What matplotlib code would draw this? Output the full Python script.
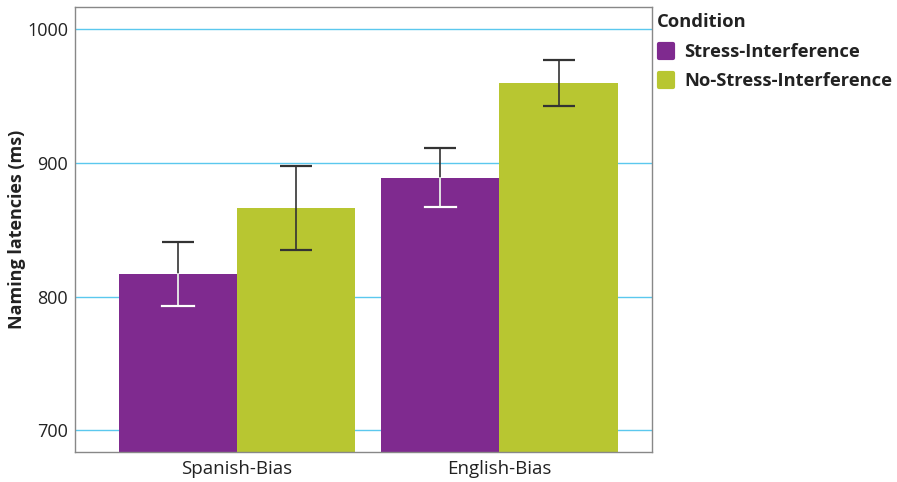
import matplotlib
matplotlib.use("Agg")
import matplotlib.pyplot as plt
import numpy as np
from matplotlib.lines import Line2D
from matplotlib.markers import MarkerStyle

plt.rcParams['font.family'] = ['Open Sans', 'DejaVu Sans']

# data
groups = ['Spanish-Bias', 'English-Bias']
conditions = ['Stress-Interference', 'No-Stress-Interference']
stress_means = [817, 889]
stress_err = [24, 22]
nostress_means = [866, 960]
nostress_err = [31.5, 17]
yticks = [700, 800, 900, 1000]

colors = ['#7f2a8f', '#b8c631']
y_low, y_high = 683.8, 1016.5

fig = plt.figure(figsize=(8.97, 4.82), dpi=100)
ax = fig.add_axes([0.0836, 0.0628, 0.6433, 0.9220])

x = np.arange(len(groups))
width = 0.45

# bars start at the bottom of the axes
ax.bar(x - width / 2, np.array(stress_means) - y_low, width, bottom=y_low,
       color=colors[0], zorder=2)
ax.bar(x + width / 2, np.array(nostress_means) - y_low, width, bottom=y_low,
       color=colors[1], zorder=2)

# error bars, dark outside the purple bars and white inside them
ax.errorbar(x - width / 2, stress_means, yerr=stress_err, fmt='none',
            ecolor='#333333', elinewidth=1.2, capsize=11.5, capthick=1.6, zorder=3)
ax.errorbar(x + width / 2, nostress_means, yerr=nostress_err, fmt='none',
            ecolor='#333333', elinewidth=1.2, capsize=11.5, capthick=1.6, zorder=3)
for xi, m, e in zip(x - width / 2, stress_means, stress_err):
    ax.plot([xi, xi], [m - e, m], color='white', lw=1.2, zorder=4)
    ax.plot([xi - 0.06, xi + 0.06], [m - e, m - e], color='white', lw=1.6, zorder=4)

ax.set_xlim(-0.617, 1.581)
ax.set_ylim(y_low, y_high)
ax.set_yticks(yticks)
ax.set_xticks(x)
ax.set_xticklabels(groups)
ax.tick_params(axis='y', length=0, labelsize=13, colors='#222222', pad=5)
ax.tick_params(axis='x', length=0, labelsize=13.5, colors='#222222', pad=6)
ax.grid(axis='y', color='#5bc8ee', lw=1)
ax.set_axisbelow(True)
for s in ax.spines.values():
    s.set_color('#888888')
    s.set_linewidth(1)

ax.set_ylabel('Naming latencies (ms)', fontsize=13, fontweight='bold',
              color='#222222')
ax.yaxis.set_label_coords(-0.085, 0.5)

# legend with rounded square keys
handles = [Line2D([], [], linestyle='none',
                  marker=MarkerStyle('s', joinstyle='round'),
                  markersize=10, markerfacecolor=c, markeredgecolor=c,
                  markeredgewidth=3) for c in colors]
leg = fig.legend(handles, conditions, loc='upper left',
                 bbox_to_anchor=(0.7325, 0.974), frameon=False,
                 title='Condition', alignment='left',
                 prop={'size': 13.2, 'weight': 'bold'},
                 title_fontproperties={'size': 13.2, 'weight': 'bold'},
                 handlelength=1.0, handletextpad=0.5, labelspacing=0.6,
                 borderpad=0, borderaxespad=0)
leg._legend_box.sep = 9  # a bit more room under the title
for t in leg.get_texts():
    t.set_color('#222222')
leg.get_title().set_color('#222222')

fig.savefig('out.png', dpi=100)
